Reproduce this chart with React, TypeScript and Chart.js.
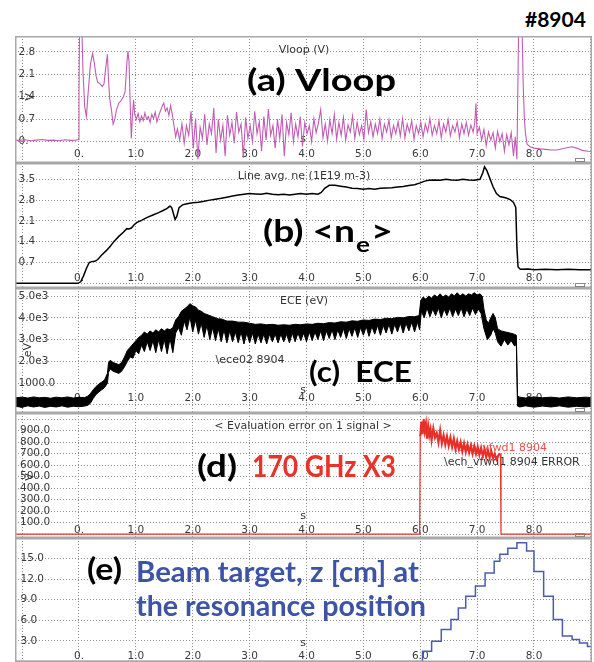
import React, { useEffect, useRef } from "react";
import { Chart, registerables } from "chart.js";

Chart.register(...registerables);

type P = [number, number];

// ---------- shared axis values ----------
const X_MIN = -1.125;
const X_MAX = 9.02;
const X_GRID = [-1, 0, 1, 2, 3, 4, 5, 6, 7, 8, 9];
const X_TICK_LABELS = ["", "0.", "1.0", "2.0", "3.0", "4.0", "5.0", "6.0", "7.0", "8.0", ""];

// ---------- panel (a) Vloop ----------
const VLOOP_TICKS = [0, 0.7, 1.4, 2.1, 2.8];
const VLOOP_LABELS = ["0.", "0.7", "1.4", "2.1", "2.8"];
const VLOOP: P[] = [
  [-1.13, 0.05], [-1.05, 0.04], [-0.95, 0.06], [-0.85, 0.03], [-0.75, 0.05], [-0.65, 0.07], [-0.55, 0.04], [-0.45, 0.05], [-0.35, 0.03], [-0.25, 0.06], [-0.15, 0.04], [-0.06, 0.05], [-0.01, 0.06],
  [0.0, 1.5], [0.01, 3.6], [0.05, 3.6], [0.07, 2.2], [0.1, 1.1], [0.13, 0.78], [0.16, 1.5], [0.2, 2.4], [0.24, 2.75], [0.27, 2.45], [0.3, 2.05], [0.33, 1.85], [0.37, 1.8], [0.41, 1.72], [0.44, 1.8], [0.47, 2.3], [0.5, 2.72], [0.52, 1.9], [0.54, 1.35], [0.57, 1.0], [0.6, 0.55], [0.63, 0.7], [0.66, 1.0], [0.7, 1.2], [0.74, 1.28], [0.78, 1.4], [0.81, 1.55], [0.84, 2.4], [0.86, 2.82], [0.88, 2.5], [0.9, 1.2], [0.92, 0.1], [0.94, 0.8], [0.96, 1.3], [0.98, 0.85],
  [1.01, 0.7], [1.04, 0.88], [1.07, 0.62], [1.1, 0.8], [1.13, 0.66], [1.16, 0.9], [1.19, 0.7], [1.22, 0.78], [1.25, 0.6], [1.28, 0.85], [1.31, 0.72], [1.34, 0.92], [1.37, 0.62], [1.4, 0.8], [1.43, 0.95], [1.46, 1.1], [1.49, 1.2], [1.52, 0.95], [1.55, 1.05], [1.58, 0.82], [1.61, 1.12], [1.64, 0.85], [1.67, 0.5], [1.7, 0.15],
  [1.73, 0.4], [1.77, 0.05], [1.81, 0.55], [1.85, -0.05], [1.89, 0.5], [1.93, 0.2], [1.97, 0.95], [2.01, -0.2], [2.05, 0.72], [2.09, -0.55], [2.13, 0.45], [2.17, 0.1], [2.21, 0.85], [2.25, -0.1], [2.29, 0.55], [2.33, 0.25], [2.37, 1.05], [2.41, -0.35], [2.45, 0.7], [2.49, 0.05], [2.53, 0.5], [2.57, -0.45], [2.61, 0.82], [2.65, 0.2], [2.69, 0.6], [2.73, -0.05], [2.77, 0.92], [2.81, 0.3], [2.85, 0.55], [2.89, -0.5], [2.93, 0.75], [2.97, 0.1],
  [3.01, 0.5], [3.05, 0.0], [3.09, 0.95], [3.13, 0.25], [3.17, 0.62], [3.21, -0.3], [3.25, 0.78], [3.29, 0.05], [3.33, 1.02], [3.37, 0.2], [3.41, 0.5], [3.45, -0.2], [3.49, 0.7], [3.53, 0.1], [3.57, 0.85], [3.61, -0.45], [3.65, 0.6], [3.69, 0.22], [3.73, 0.9], [3.77, 0.0], [3.81, 0.55], [3.85, 0.15], [3.89, 0.78], [3.93, -0.15], [3.97, 0.6],
  [4.01, 0.25], [4.05, 0.5], [4.09, 0.0], [4.13, 0.72], [4.17, 0.28], [4.21, 0.58], [4.25, 1.0], [4.29, 0.12], [4.33, 0.55], [4.37, 0.02], [4.41, 0.68], [4.45, 0.25], [4.49, 0.85], [4.53, 0.08], [4.57, 0.6], [4.61, 0.2], [4.65, 0.75], [4.69, 0.05], [4.73, 0.52], [4.77, 0.3], [4.81, 0.8], [4.85, 0.1], [4.89, 0.6], [4.93, 0.22], [4.97, 0.5],
  [5.01, 0.08], [5.05, 1.0], [5.09, 0.28], [5.13, 0.62], [5.17, 0.15], [5.21, 0.55], [5.25, 0.25], [5.29, 0.7], [5.33, 0.1], [5.37, 0.55], [5.41, 0.3], [5.45, 0.68], [5.49, 0.12], [5.53, 0.5], [5.57, 0.25], [5.61, 0.62], [5.65, 0.18], [5.69, 0.72], [5.73, 0.12], [5.77, 0.55], [5.81, 0.3], [5.85, 0.65], [5.89, 0.08], [5.93, 0.5], [5.97, 0.25],
  [6.01, 0.6], [6.05, 0.15], [6.09, 0.55], [6.13, 0.3], [6.17, 0.72], [6.21, 0.2], [6.25, 0.5], [6.29, 0.25], [6.33, 0.65], [6.37, 0.12], [6.41, 0.55], [6.45, 0.3], [6.49, 0.7], [6.53, 0.18], [6.57, 0.5], [6.61, 0.3], [6.65, 0.62], [6.69, 0.12], [6.73, 0.55], [6.77, 0.25], [6.81, 0.6], [6.85, 0.2], [6.89, 0.52], [6.93, 0.3], [6.96, 0.6], [6.98, 1.2],
  [7.0, 0.25], [7.04, 0.45], [7.08, 0.05], [7.12, 0.38], [7.16, -0.12], [7.2, 0.3], [7.24, 0.05], [7.28, 0.28], [7.32, -0.2], [7.36, 0.32], [7.4, 0.0], [7.44, 0.25], [7.48, -0.3], [7.52, 0.22], [7.56, -0.1], [7.6, 0.28], [7.64, -0.45], [7.67, 0.15], [7.7, -0.55],
  [7.73, 3.6], [7.79, 3.6], [7.81, 1.8], [7.83, 0.75], [7.85, 0.25], [7.88, -0.08], [7.93, -0.16], [8.0, -0.2], [8.1, -0.22], [8.2, -0.24], [8.3, -0.26], [8.4, -0.26], [8.5, -0.22], [8.6, -0.18], [8.67, -0.16], [8.75, -0.2], [8.85, -0.27], [8.95, -0.3], [9.05, -0.31],
];

// ---------- panel (b) line averaged density ----------
const NE_TICKS = [0, 0.7, 1.4, 2.1, 2.8, 3.5];
const NE_LABELS = ["", "0.7", "1.4", "2.1", "2.8", "3.5"];
const NE: P[] = [
  [-1.13, 0], [-0.02, 0], [0.03, 0.05], [0.08, 0.25], [0.13, 0.5], [0.18, 0.7], [0.22, 0.73], [0.28, 0.74], [0.33, 0.8], [0.4, 0.95], [0.48, 1.1], [0.55, 1.25], [0.62, 1.42], [0.7, 1.58], [0.78, 1.72], [0.84, 1.84], [0.88, 1.83], [0.92, 1.86], [0.97, 1.97],
  [1.02, 2.05], [1.1, 2.12], [1.2, 2.22], [1.3, 2.3], [1.4, 2.38], [1.48, 2.45], [1.55, 2.52], [1.6, 2.6], [1.63, 2.55], [1.66, 2.35], [1.69, 2.15], [1.72, 2.25], [1.76, 2.55], [1.82, 2.64], [1.9, 2.68],
  [2.0, 2.71], [2.1, 2.73], [2.2, 2.76], [2.3, 2.8], [2.4, 2.83], [2.5, 2.86], [2.6, 2.9], [2.7, 2.94], [2.8, 2.97], [2.9, 3.0], [3.0, 3.02], [3.1, 3.01], [3.2, 3.0], [3.3, 3.03], [3.4, 3.0], [3.5, 2.98], [3.6, 3.0], [3.7, 2.97], [3.8, 3.0], [3.9, 3.02],
  [4.0, 3.0], [4.1, 3.02], [4.2, 3.0], [4.26, 3.06], [4.32, 3.2], [4.4, 3.3], [4.5, 3.3], [4.6, 3.27], [4.7, 3.24], [4.8, 3.2], [4.9, 3.19], [5.0, 3.17], [5.1, 3.19], [5.2, 3.17], [5.3, 3.2], [5.4, 3.21], [5.5, 3.22], [5.6, 3.24], [5.7, 3.26], [5.8, 3.29], [5.9, 3.32],
  [6.0, 3.38], [6.08, 3.44], [6.15, 3.47], [6.25, 3.48], [6.35, 3.47], [6.45, 3.5], [6.55, 3.48], [6.65, 3.47], [6.75, 3.5], [6.85, 3.48], [6.95, 3.47], [7.05, 3.5], [7.1, 3.72], [7.13, 3.92], [7.17, 3.8], [7.22, 3.55], [7.28, 3.25], [7.34, 3.02], [7.4, 2.92], [7.5, 2.88], [7.58, 2.82], [7.64, 2.72], [7.68, 2.55],
  [7.7, 1.2], [7.72, 0.55], [7.76, 0.47], [7.9, 0.48], [8.0, 0.46], [8.2, 0.47], [8.4, 0.46], [8.6, 0.47], [8.8, 0.46], [9.05, 0.46],
];

// ---------- panel (c) ECE ----------
const ECE_TICKS = [0, 1000, 2000, 3000, 4000, 5000];
const ECE_LABELS = ["0", "1000.0", "2.0e3", "3.0e3", "4.0e3", "5.0e3"];
const ECE_UPPER: P[] = [
  [-1.13, 330], [-1.0, 360], [-0.9, 320], [-0.8, 370], [-0.7, 330], [-0.6, 350], [-0.5, 310], [-0.4, 360], [-0.3, 330], [-0.2, 370], [-0.1, 320], [0.0, 350], [0.1, 340], [0.15, 400],
  [0.2, 520], [0.25, 700], [0.3, 850], [0.35, 960], [0.4, 1050], [0.45, 1150], [0.5, 1450], [0.52, 1950], [0.55, 2050], [0.6, 1950], [0.65, 1900], [0.7, 1850], [0.75, 1950], [0.8, 2200], [0.85, 2500], [0.9, 2650], [0.95, 2800],
  [1.0, 2950], [1.05, 3100], [1.1, 3200], [1.15, 3350], [1.2, 3250], [1.25, 3400], [1.3, 3300], [1.35, 3450], [1.4, 3350], [1.45, 3500], [1.5, 3400], [1.55, 3500], [1.6, 3450], [1.65, 3550], [1.7, 3900], [1.75, 4050], [1.8, 4300], [1.85, 4400], [1.9, 4500], [1.95, 4650],
  [2.0, 4550], [2.05, 4500], [2.1, 4350], [2.15, 4300], [2.2, 4200], [2.25, 4150], [2.3, 4100], [2.35, 4050], [2.4, 4000], [2.45, 3950], [2.5, 3950], [2.55, 3900], [2.6, 3850], [2.7, 3850], [2.8, 3800], [2.9, 3800],
  [3.0, 3750], [3.1, 3700], [3.2, 3720], [3.3, 3680], [3.4, 3700], [3.5, 3660], [3.6, 3680], [3.7, 3660], [3.8, 3700], [3.9, 3680], [4.0, 3720], [4.1, 3700], [4.2, 3750], [4.3, 3730], [4.4, 3780], [4.5, 3760], [4.6, 3820], [4.7, 3800], [4.8, 3860], [4.9, 3840],
  [5.0, 3900], [5.1, 3880], [5.2, 3940], [5.3, 3920], [5.4, 3980], [5.5, 3960], [5.6, 4020], [5.7, 4000], [5.8, 4060], [5.9, 4050], [5.98, 4100],
  [6.01, 4800], [6.05, 4950], [6.1, 4850], [6.15, 5000], [6.2, 4900], [6.25, 5050], [6.3, 4950], [6.35, 5100], [6.4, 4950], [6.45, 5050], [6.5, 4950], [6.55, 5100], [6.6, 5000], [6.65, 5150], [6.7, 5000], [6.75, 5100], [6.8, 5000], [6.85, 5100], [6.9, 5050], [6.95, 5150], [7.0, 5050], [7.05, 5100], [7.09, 5000],
  [7.12, 4400], [7.16, 3900], [7.2, 3750], [7.24, 4000], [7.28, 4200], [7.32, 4000], [7.36, 3500], [7.42, 3400], [7.5, 3350], [7.58, 3300], [7.65, 3250], [7.69, 3200],
  [7.71, 420], [7.75, 360], [7.85, 320], [8.0, 370], [8.15, 330], [8.3, 360], [8.45, 320], [8.6, 370], [8.75, 330], [8.9, 360], [9.05, 330],
];
const ECE_LOWER: P[] = [
  [-1.13, -60], [-1.0, -100], [-0.9, -40], [-0.8, -90], [-0.7, -50], [-0.6, -110], [-0.5, -60], [-0.4, -90], [-0.3, -40], [-0.2, -100], [-0.1, -60], [0.0, -80], [0.1, -50], [0.15, -20],
  [0.2, 80], [0.25, 300], [0.3, 480], [0.35, 600], [0.4, 700], [0.45, 800], [0.5, 1000], [0.52, 1500], [0.55, 1650], [0.6, 1550], [0.65, 1500], [0.7, 1450], [0.75, 1550], [0.8, 1750], [0.85, 2000], [0.9, 2200], [0.95, 2150],
  [1.0, 2500], [1.05, 2350], [1.1, 2750], [1.15, 2450], [1.2, 2900], [1.25, 2500], [1.3, 2950], [1.35, 2400], [1.4, 3000], [1.45, 2450], [1.5, 3000], [1.55, 2350], [1.6, 3050], [1.65, 2400], [1.7, 3300], [1.75, 3550], [1.8, 3200], [1.85, 3850], [1.9, 3450], [1.95, 4050],
  [2.0, 3350], [2.05, 3900], [2.1, 3250], [2.15, 3750], [2.2, 3100], [2.25, 3650], [2.3, 3000], [2.35, 3550], [2.4, 2950], [2.45, 3500], [2.5, 2900], [2.55, 3450], [2.6, 2850], [2.65, 3400], [2.7, 2900], [2.75, 3350], [2.8, 2850], [2.85, 3350], [2.9, 2800], [2.95, 3300],
  [3.0, 2850], [3.05, 3300], [3.1, 2800], [3.15, 3250], [3.2, 2850], [3.25, 3250], [3.3, 2800], [3.35, 3250], [3.4, 2900], [3.45, 3250], [3.5, 2850], [3.55, 3250], [3.6, 2900], [3.65, 3250], [3.7, 2850], [3.75, 3300], [3.8, 2900], [3.85, 3300], [3.9, 2950], [3.95, 3300],
  [4.0, 2900], [4.05, 3350], [4.1, 2950], [4.15, 3350], [4.2, 3000], [4.25, 3400], [4.3, 2950], [4.35, 3400], [4.4, 3050], [4.45, 3450], [4.5, 3000], [4.55, 3450], [4.6, 3100], [4.65, 3500], [4.7, 3050], [4.75, 3500], [4.8, 3150], [4.85, 3550], [4.9, 3100], [4.95, 3550],
  [5.0, 3200], [5.05, 3600], [5.1, 3150], [5.15, 3600], [5.2, 3250], [5.25, 3650], [5.3, 3200], [5.35, 3650], [5.4, 3300], [5.45, 3700], [5.5, 3250], [5.55, 3700], [5.6, 3350], [5.65, 3750], [5.7, 3300], [5.75, 3750], [5.8, 3400], [5.85, 3800], [5.9, 3350], [5.95, 3800], [5.99, 3450],
  [6.02, 4300], [6.07, 4000], [6.12, 4450], [6.17, 4050], [6.22, 4400], [6.27, 4100], [6.32, 4450], [6.37, 4000], [6.42, 4400], [6.47, 4100], [6.52, 4450], [6.57, 4050], [6.62, 4400], [6.67, 4100], [6.72, 4450], [6.77, 4050], [6.82, 4400], [6.87, 4100], [6.92, 4450], [6.97, 4150], [7.02, 4400], [7.07, 4200],
  [7.12, 3500], [7.18, 3000], [7.24, 3200], [7.28, 3500], [7.32, 3300], [7.36, 2900], [7.42, 2700], [7.48, 3000], [7.54, 2750], [7.6, 2950], [7.66, 2700], [7.69, 2800],
  [7.71, -50], [7.75, -90], [7.85, -40], [8.0, -100], [8.15, -50], [8.3, -90], [8.45, -40], [8.6, -100], [8.75, -60], [8.9, -90], [9.05, -50],
];

// ---------- panel (d) 170 GHz ----------
const ECH_TICKS = [0, 100, 200, 300, 400, 500, 600, 700, 800, 900, 1000];
const ECH_LABELS = ["", "100.0", "200.0", "300.0", "400.0", "500.0", "600.0", "700.0", "800.0", "900.0", ""];
const ECH: P[] = [
  [-1.13, 0], [5.99, 0], [6.0, 850], [6.02, 980], [6.04, 870], [6.06, 1000], [6.08, 900], [6.1, 960], [6.12, 830], [6.14, 940], [6.16, 860], [6.18, 910], [6.2, 820], [6.23, 920], [6.26, 840], [6.29, 880], [6.32, 800], [6.35, 900], [6.38, 790], [6.41, 860], [6.44, 780], [6.47, 850], [6.5, 770], [6.53, 840], [6.56, 760], [6.59, 830], [6.62, 740], [6.65, 810], [6.68, 740], [6.71, 800], [6.74, 720], [6.77, 790], [6.8, 715], [6.83, 780], [6.86, 710], [6.89, 770], [6.92, 700], [6.95, 765], [6.98, 700], [7.01, 760], [7.04, 690], [7.07, 750], [7.1, 680], [7.13, 740], [7.16, 670], [7.19, 730], [7.22, 665], [7.25, 720], [7.28, 660], [7.31, 700], [7.34, 650], [7.38, 690], [7.41, 700], [7.42, 0], [9.05, 0],
];

// ---------- panel (e) beam target ----------
const Z_TICKS = [0, 3, 6, 9, 12, 15];
const Z_LABELS = ["", "3.0", "6.0", "9.0", "12.0", "15.0"];
const ZTARGET: P[] = [
  [-1.13, 0], [6.04, 1.5], [6.2, 2.95], [6.37, 4.66], [6.54, 6.1], [6.67, 7.8], [6.8, 9.5], [6.97, 11.0], [7.14, 12.9], [7.3, 14.6], [7.4, 15.6], [7.54, 16.5], [7.7, 17.3], [7.87, 16.1], [8.0, 13.1], [8.17, 9.5], [8.34, 6.1], [8.5, 3.7], [8.67, 3.2], [8.8, 2.7], [8.94, 2.2], [9.05, 2.0],
];

// ---------- layout ----------
const LEFT = 15;
const WIDTH = 577;
const SMALL_FONT = '11px "DejaVu Sans"';
const TICK_FONT = '10.5px "DejaVu Sans"';
const BIG_FONT = "Lato";

interface SmallText { text: string; x: number; y: number; align?: CanvasTextAlign; color?: string; rotate?: boolean; }
interface BigText { text: string; x: number; base: number; width: number; size: number; color: string; }
interface PanelSpec {
  top: number; height: number; yMin: number; yMax: number;
  yTicks: number[]; yLabels: string[]; xLabelY: number; yLabelX: number;
  small: SmallText[]; big: BigText[]; datasets: any[]; marker: boolean;
}

const pts = (a: P[]) => a.map(([x, y]) => ({ x, y }));

const RED = "#e8322a";
const BLUE = "#3d54a6";

const PANELS: PanelSpec[] = [
  {
    top: 36, height: 127, yMin: -0.664, yMax: 3.293, yTicks: VLOOP_TICKS, yLabels: VLOOP_LABELS, xLabelY: 154, yLabelX: 18.5,
    small: [
      { text: "Vloop (V)", x: 304, y: 50 },
      { text: "s", x: 303, y: 139 },
      { text: "V", x: 30, y: 97, rotate: true },
    ],
    big: [{ text: "(a) Vloop", x: 247, base: 91, width: 149, size: 31, color: "#000" }],
    datasets: [{ data: pts(VLOOP), borderColor: "#c25cb4", borderWidth: 1.1 }],
    marker: true,
  },
  {
    top: 163, height: 125, yMin: -0.158, yMax: 4.05, yTicks: NE_TICKS, yLabels: NE_LABELS, xLabelY: 278, yLabelX: 18.5,
    small: [{ text: "Line avg. ne (1E19 m-3)", x: 304, y: 176 }],
    big: [
      { text: "(b) <n", x: 263, base: 242, width: 92, size: 30, color: "#000" },
      { text: "e", x: 356, base: 252, width: 14, size: 20, color: "#000" },
      { text: ">", x: 371, base: 242, width: 22, size: 30, color: "#000" },
    ],
    datasets: [{ data: pts(NE), borderColor: "#000", borderWidth: 1.5 }],
    marker: true,
  },
  {
    top: 288, height: 125, yMin: -367, yMax: 5367, yTicks: ECE_TICKS, yLabels: ECE_LABELS, xLabelY: 398, yLabelX: 18.5,
    small: [
      { text: "ECE (eV)", x: 304, y: 301 },
      { text: "\\ece02 8904", x: 250, y: 360 },
      { text: "s", x: 303, y: 390 },
      { text: "eV", x: 28, y: 350, rotate: true },
    ],
    big: [{ text: "(c)  ECE", x: 309, base: 382, width: 103, size: 29, color: "#000" }],
    datasets: [
      { data: pts(ECE_LOWER), borderColor: "#000", borderWidth: 1, fill: false },
      { data: pts(ECE_UPPER), borderColor: "#000", borderWidth: 1, fill: "-1", backgroundColor: "#000" },
    ],
    marker: true,
  },
  {
    top: 413, height: 125, yMin: -33, yMax: 1054, yTicks: ECH_TICKS, yLabels: ECH_LABELS, xLabelY: 530.5, yLabelX: 20,
    small: [
      { text: "< Evaluation error on 1 signal >", x: 303, y: 426 },
      { text: "s", x: 303, y: 516 },
      { text: "\\ech_vfwd1 8904", x: 547, y: 448, align: "right", color: "#e85048" },
      { text: "\\ech_vfwd1 8904 ERROR", x: 444, y: 462, align: "left" },
      { text: "V", x: 30, y: 477, rotate: true },
    ],
    big: [
      { text: "(d)", x: 197, base: 477, width: 40, size: 30, color: "#000" },
      { text: "170 GHz X3", x: 252, base: 477, width: 144, size: 30, color: RED },
    ],
    datasets: [{
      data: pts(ECH), borderColor: "#e8302a", borderWidth: 1.2,
      segment: { borderWidth: (c: any) => (c.p0.parsed.y > 100 && c.p1.parsed.y > 100 ? 2.2 : 1.2) },
    }],
    marker: true,
  },
  {
    top: 538, height: 124, yMin: -0.073, yMax: 17.98, yTicks: Z_TICKS, yLabels: Z_LABELS, xLabelY: 656, yLabelX: 20.5,
    small: [{ text: "s", x: 303, y: 643 }],
    big: [
      { text: "(e)", x: 87, base: 580, width: 35, size: 30, color: "#000" },
      { text: "Beam target, z [cm] at", x: 136, base: 582, width: 283, size: 29, color: BLUE },
      { text: "the resonance position", x: 136, base: 616, width: 290, size: 29, color: BLUE },
    ],
    datasets: [{ data: pts(ZTARGET), borderColor: "#4a5cb0", borderWidth: 1.5, stepped: "before" }],
    marker: false,
  },
];

function decoPlugin(spec: PanelSpec) {
  return {
    id: "deco",
    beforeDatasetsDraw(chart: any) {
      const ctx: CanvasRenderingContext2D = chart.ctx;
      const xs = chart.scales.x;
      const ys = chart.scales.y;
      ctx.save();
      ctx.font = TICK_FONT;
      ctx.fillStyle = "#3a3a3a";
      ctx.textBaseline = "middle";
      ctx.textAlign = "left";
      ys.ticks.forEach((t: any, i: number) => {
        const lab = spec.yLabels[i];
        if (lab) ctx.fillText(lab, spec.yLabelX - LEFT, ys.getPixelForValue(t.value));
      });
      ctx.textAlign = "center";
      xs.ticks.forEach((t: any, i: number) => {
        const lab = X_TICK_LABELS[i];
        if (lab) ctx.fillText(lab, xs.getPixelForValue(t.value), spec.xLabelY - spec.top);
      });
      ctx.font = SMALL_FONT;
      spec.small.forEach((s) => {
        ctx.fillStyle = s.color || "#333";
        ctx.textAlign = s.align || "center";
        if (s.rotate) {
          ctx.save();
          ctx.translate(s.x - LEFT, s.y - spec.top);
          ctx.rotate(-Math.PI / 2);
          ctx.textAlign = "center";
          ctx.fillText(s.text, 0, 0);
          ctx.restore();
        } else {
          ctx.fillText(s.text, s.x - LEFT, s.y - spec.top);
        }
      });
      ctx.restore();
    },
    afterDraw(chart: any) {
      const ctx: CanvasRenderingContext2D = chart.ctx;
      const w = chart.width;
      const h = chart.height;
      ctx.save();
      spec.big.forEach((b) => {
        ctx.font = `bold ${b.size}px ${BIG_FONT}`;
        const mw = ctx.measureText(b.text).width;
        ctx.save();
        ctx.translate(b.x - LEFT, b.base - spec.top);
        ctx.scale(b.width / mw, 1);
        ctx.fillStyle = b.color;
        ctx.textAlign = "left";
        ctx.textBaseline = "alphabetic";
        ctx.fillText(b.text, 0, 0);
        ctx.restore();
      });
      ctx.strokeStyle = "#a8a8a8";
      ctx.lineWidth = 1.5;
      ctx.strokeRect(0.75, 0.75, w - 1.5, h - 1.5);
      if (spec.marker) {
        ctx.lineWidth = 1;
        ctx.strokeStyle = "#888";
        ctx.strokeRect(w - 16.5, h - 4.5, 9, 3);
      }
      ctx.restore();
    },
  };
}

function buildConfig(spec: PanelSpec): any {
  const gridCommon = { color: "#8f8f8f", lineWidth: 1, drawTicks: false };
  return {
    type: "line",
    data: { datasets: spec.datasets.map((d) => ({ pointRadius: 0, tension: 0, fill: false, ...d })) },
    options: {
      animation: false,
      responsive: false,
      devicePixelRatio: 1,
      events: [],
      layout: { padding: 0 },
      plugins: { legend: { display: false }, tooltip: { enabled: false }, title: { display: false } },
      scales: {
        x: {
          type: "linear", min: X_MIN, max: X_MAX,
          afterBuildTicks: (s: any) => { s.ticks = X_GRID.map((v) => ({ value: v })); },
          ticks: { display: false },
          grid: gridCommon,
          border: { display: false, dash: [1, 2] },
        },
        y: {
          type: "linear", min: spec.yMin, max: spec.yMax,
          afterBuildTicks: (s: any) => { s.ticks = spec.yTicks.map((v) => ({ value: v })); },
          ticks: { display: false },
          grid: gridCommon,
          border: { display: false, dash: [1, 2] },
        },
      },
    },
    plugins: [decoPlugin(spec)],
  };
}

function Panel({ spec }: { spec: PanelSpec }) {
  const ref = useRef<HTMLCanvasElement>(null);
  useEffect(() => {
    if (!ref.current) return;
    const chart = new Chart(ref.current, buildConfig(spec));
    return () => chart.destroy();
  }, [spec]);
  return (
    <canvas
      ref={ref}
      width={WIDTH}
      height={spec.height}
      style={{ position: "absolute", left: LEFT, top: spec.top, width: WIDTH, height: spec.height }}
    />
  );
}

export default function App() {
  return (
    <div style={{ position: "absolute", left: 0, top: 0, width: 594, height: 662, background: "#fff", overflow: "hidden" }}>
      <div style={{ position: "absolute", left: 525, top: 8, font: "bold 21px Lato", lineHeight: "21px", color: "#000" }}>#8904</div>
      {PANELS.map((p, i) => (
        <Panel key={i} spec={p} />
      ))}
    </div>
  );
}
